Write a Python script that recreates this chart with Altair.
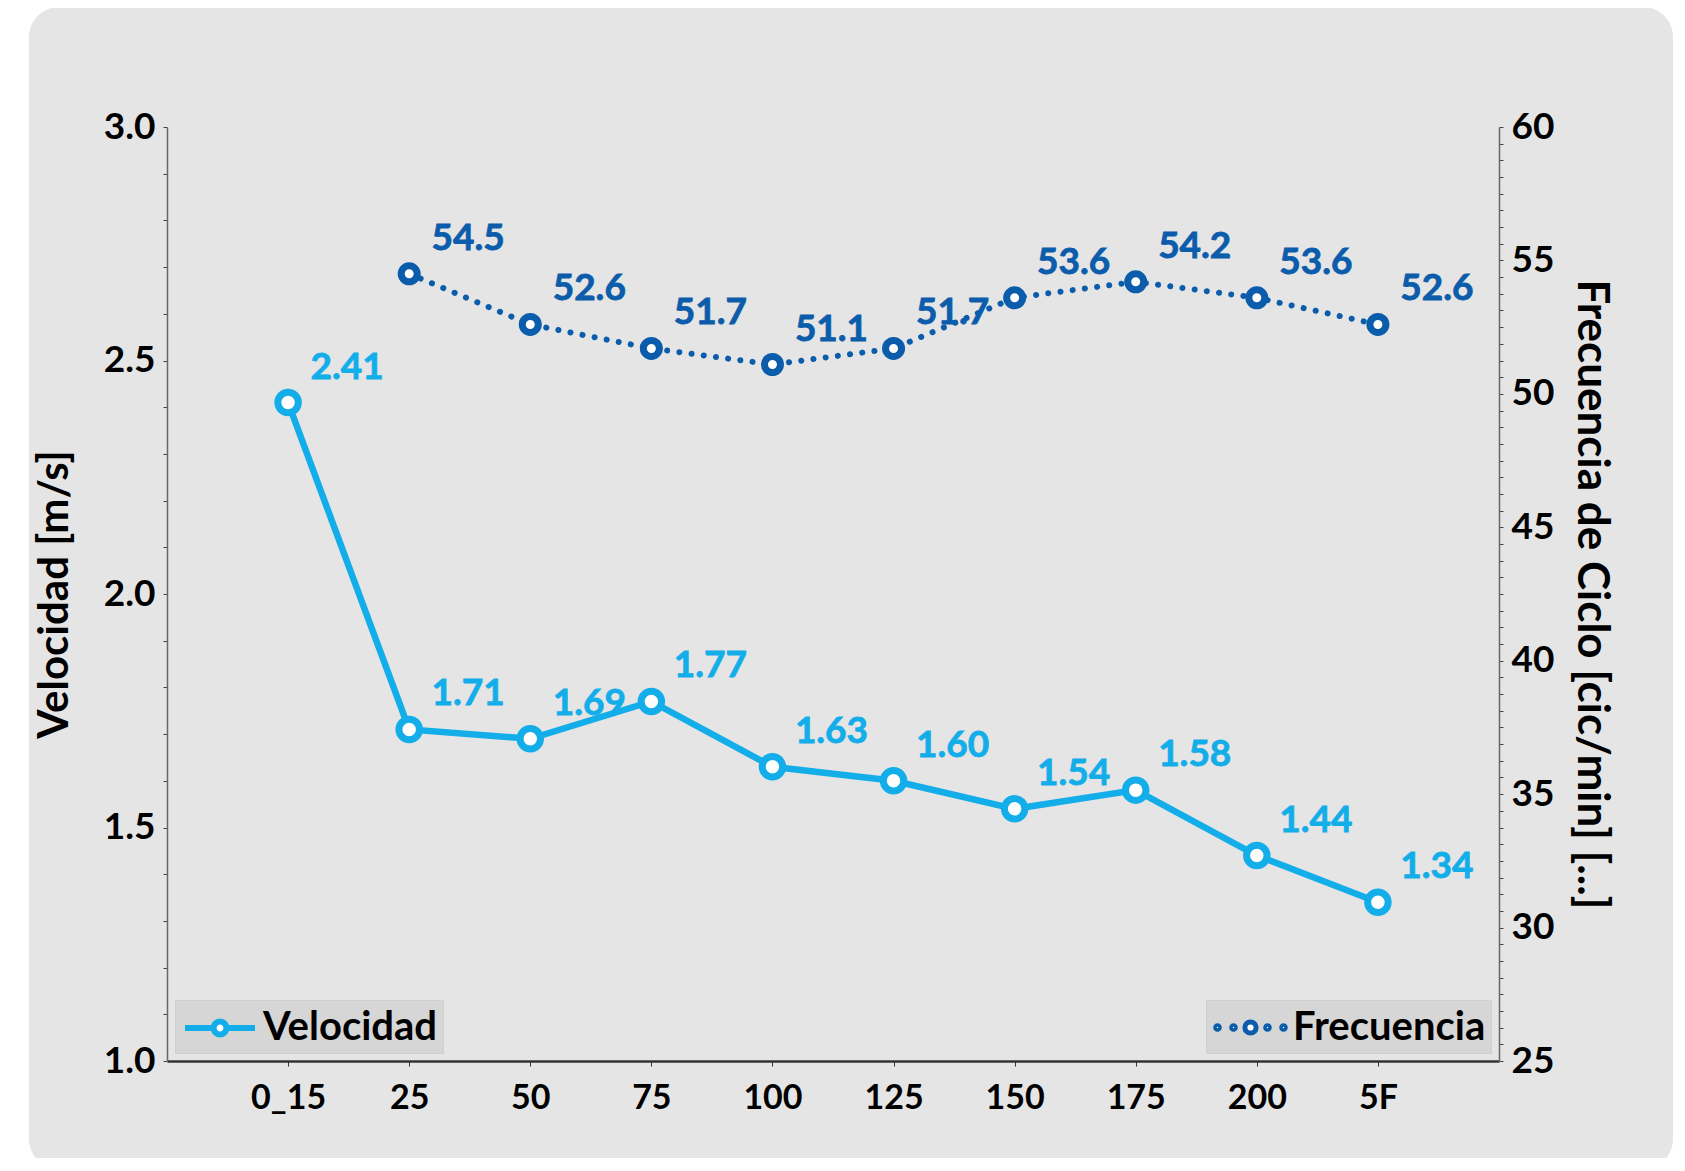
import altair as alt
import pandas as pd

categories = ["0_15", "25", "50", "75", "100", "125", "150", "175", "200", "5F"]
velocidad = [2.41, 1.71, 1.69, 1.77, 1.63, 1.60, 1.54, 1.58, 1.44, 1.34]
frecuencia = [None, 54.5, 52.6, 51.7, 51.1, 51.7, 53.6, 54.2, 53.6, 52.6]

LIGHT = "#13aee9"
DARK = "#0b5cab"
FONT = "Lato"
WEIGHT = "bold"

vel_df = pd.DataFrame({"cat": categories, "v": velocidad, "s": "Velocidad"})
vel_df["lab"] = [f"{x:.2f}" for x in velocidad]
frq_df = pd.DataFrame({"cat": categories, "f": frecuencia, "s": "Frecuencia"}).dropna()
frq_df["lab"] = [f"{x:.1f}" for x in frq_df["f"]]

W, H = 1332, 934

xenc = alt.X("cat:N", sort=categories,
             scale=alt.Scale(type="point", domain=categories, padding=1),
             axis=alt.Axis(title=None, labelAngle=0, labelFont=FONT, labelFontSize=34,
                           labelFontWeight=WEIGHT, labelColor="black", labelPadding=15,
                           tickSize=5, tickColor="#333", domainColor="#333",
                           domainWidth=2.5, grid=False, zindex=2))

card = alt.Chart(pd.DataFrame({"a": [0]})).mark_rect(
    color="#e5e5e5", cornerRadius=30
).encode(x=alt.value(29 - 167), x2=alt.value(1673 - 167),
         y=alt.value(7 - 127), y2=alt.value(1169 - 127))

left_ticks = [round(1.0 + 0.1 * i, 1) for i in range(21)]
right_ticks = [25 + 0.625 * i for i in range(57)]

vy = alt.Y("v:Q", scale=alt.Scale(domain=[1, 3], nice=False, zero=False),
           axis=alt.Axis(orient="left", values=left_ticks,
                         labelExpr="round(datum.value*10) % 5 == 0 ? format(datum.value, '.1f') : ''",
                         labelOverlap=False, labelFont=FONT, labelFontSize=37,
                         labelFontWeight=WEIGHT, labelColor="black", labelPadding=8,
                         tickSize=4, tickColor="#444", domainColor="#666", domainWidth=1.5,
                         grid=False, zindex=2, title="Velocidad [m/s]", titleFont=FONT,
                         titleFontSize=42, titleFontWeight=WEIGHT, titleColor="black",
                         titleAngle=-90, titleX=54 - 167, titleY=H / 2,
                         titleAlign="center", titleBaseline="middle"))

S = 1.75  # path scale: symbol slot 40px, drawn 70px wide
vel_symbol = (f"M{-S},0L-0.32,0M0.32,0L{S},0"
              "M0.32,0A0.32,0.32,0,1,1,-0.32,0A0.32,0.32,0,1,1,0.32,0")

vel_base = alt.Chart(vel_df)
vel_line = vel_base.mark_line(color=LIGHT, strokeWidth=6.5).encode(x=xenc, y=vy)
vel_pts = vel_base.mark_point(shape="circle", size=420, strokeWidth=7, fill="white",
                              filled=False, opacity=1).encode(
    x=xenc, y=vy,
    stroke=alt.Stroke("s:N", scale=alt.Scale(domain=["Velocidad"], range=[LIGHT]),
                      legend=alt.Legend(title=None, orient="bottom-left", offset=8,
                                        fillColor="#d6d6d6", strokeColor="#cfcfcf",
                                        padding=5, symbolType=vel_symbol,
                                        symbolSize=1600, symbolStrokeWidth=6,
                                        symbolOffset=17,
                                        symbolFillColor="white", symbolOpacity=1,
                                        labelFont=FONT, labelFontSize=40,
                                        labelFontWeight=WEIGHT, labelColor="black",
                                        labelOffset=20, labelLimit=500, zindex=2)))
vel_txt = vel_base.mark_text(font=FONT, fontSize=37, fontWeight=WEIGHT, color=LIGHT,
                             stroke=LIGHT, strokeWidth=0.8,
                             dx=59, dy=-35, align="center", baseline="middle").encode(
    x=xenc, y=vy, text="lab:N")
vel_layer = alt.layer(vel_line, vel_pts, vel_txt)

fy = alt.Y("f:Q", scale=alt.Scale(domain=[25, 60], nice=False, zero=False),
           axis=alt.Axis(orient="right", values=right_ticks,
                         labelExpr="datum.value % 5 == 0 ? format(datum.value, 'd') : ''",
                         labelOverlap=False, labelFont=FONT, labelFontSize=37,
                         labelFontWeight=WEIGHT, labelColor="black", labelPadding=8,
                         tickSize=4, tickColor="#444", domainColor="#666", domainWidth=1.5,
                         grid=False, zindex=2, title="Frecuencia de Ciclo [cic/min] [...]",
                         titleFont=FONT, titleFontSize=44, titleFontWeight=WEIGHT,
                         titleColor="black", titleAngle=90, titleX=1590 - 1499,
                         titleY=H / 2, titleAlign="center", titleBaseline="middle"))

dot = lambda c: f"M{c + 0.09},0A0.09,0.09,0,1,1,{c - 0.09},0A0.09,0.09,0,1,1,{c + 0.09},0"
frq_symbol = (dot(-1.65) + dot(-0.85)
              + "M0.28,0A0.28,0.28,0,1,1,-0.28,0A0.28,0.28,0,1,1,0.28,0"
              + dot(0.85) + dot(1.65))

frq_base = alt.Chart(frq_df)
frq_line = frq_base.mark_line(color=DARK, strokeWidth=6, strokeDash=[0.1, 12.2],
                              strokeCap="round").encode(x=xenc, y=fy)
frq_pts = frq_base.mark_point(shape="circle", size=256, strokeWidth=7, fill="white",
                              filled=False, opacity=1).encode(
    x=xenc, y=fy,
    stroke=alt.Stroke("s:N", scale=alt.Scale(domain=["Frecuencia"], range=[DARK]),
                      legend=alt.Legend(title=None, orient="bottom-right", offset=8,
                                        fillColor="#d6d6d6", strokeColor="#cfcfcf",
                                        padding=5, symbolType=frq_symbol,
                                        symbolSize=1600, symbolStrokeWidth=5,
                                        symbolOffset=17,
                                        symbolFillColor="white", symbolOpacity=1,
                                        labelFont=FONT, labelFontSize=40,
                                        labelFontWeight=WEIGHT, labelColor="black",
                                        labelOffset=20, labelLimit=500, zindex=2)))
frq_txt = frq_base.mark_text(font=FONT, fontSize=37, fontWeight=WEIGHT, color=DARK,
                             stroke=DARK, strokeWidth=0.8,
                             dx=59, dy=-35, align="center", baseline="middle").encode(
    x=xenc, y=fy, text="lab:N")
frq_layer = alt.layer(frq_line, frq_pts, frq_txt)

data_layer = alt.layer(vel_layer, frq_layer).resolve_scale(
    y="independent", stroke="independent").resolve_legend(stroke="independent")

chart = alt.layer(card, data_layer).properties(
    width=W, height=H,
    autosize=alt.AutoSizeParams(type="none"),
    padding={"left": 159, "top": 119, "right": 178, "bottom": 97},
    background="white",
).configure_view(stroke=None)

chart.save("out.html", embed_options={"renderer": "svg", "actions": False})
